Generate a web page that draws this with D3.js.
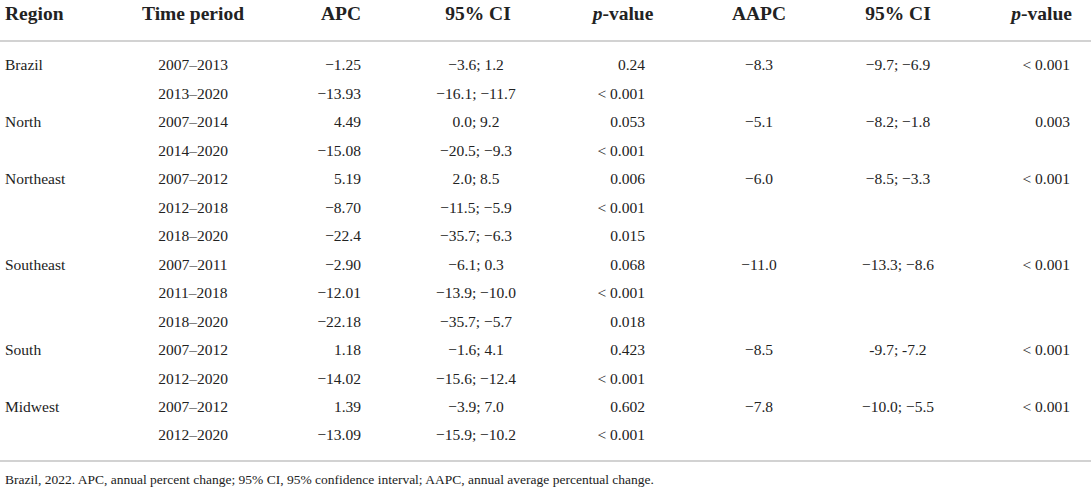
<!DOCTYPE html>
<html>
<head>
  <meta charset="utf-8">
  <title>APC and AAPC by region</title>
  <script src="https://d3js.org/d3.v7.min.js"></script>
  <style>
    body { margin: 0; background: #fff; }
    text { font-family: "Liberation Serif", "DejaVu Serif", serif; fill: #222; }
  </style>
</head>
<body>
<script>
// table content, one array per column
var headers   = ["Region", "Time period", "APC", "95% CI", "p-value", "AAPC", "95% CI", "p-value"];
var regions   = ["Brazil", "", "North", "", "Northeast", "", "", "Southeast", "", "", "South", "", "Midwest", ""];
var periods   = ["2007\u20132013", "2013\u20132020", "2007\u20132014", "2014\u20132020", "2007\u20132012", "2012\u20132018",
                 "2018\u20132020", "2007\u20132011", "2011\u20132018", "2018\u20132020", "2007\u20132012", "2012\u20132020",
                 "2007\u20132012", "2012\u20132020"];
var apc       = ["\u22121.25", "\u221213.93", "4.49", "\u221215.08", "5.19", "\u22128.70", "\u221222.4",
                 "\u22122.90", "\u221212.01", "\u221222.18", "1.18", "\u221214.02", "1.39", "\u221213.09"];
var apcCI     = ["\u22123.6; 1.2", "\u221216.1; \u221211.7", "0.0; 9.2", "\u221220.5; \u22129.3", "2.0; 8.5",
                 "\u221211.5; \u22125.9", "\u221235.7; \u22126.3", "\u22126.1; 0.3", "\u221213.9; \u221210.0",
                 "\u221235.7; \u22125.7", "\u22121.6; 4.1", "\u221215.6; \u221212.4", "\u22123.9; 7.0", "\u221215.9; \u221210.2"];
var apcP      = ["0.24", "< 0.001", "0.053", "< 0.001", "0.006", "< 0.001", "0.015",
                 "0.068", "< 0.001", "0.018", "0.423", "< 0.001", "0.602", "< 0.001"];
var aapc      = ["\u22128.3", "", "\u22125.1", "", "\u22126.0", "", "", "\u221211.0", "", "", "\u22128.5", "", "\u22127.8", ""];
var aapcCI    = ["\u22129.7; \u22126.9", "", "\u22128.2; \u22121.8", "", "\u22128.5; \u22123.3", "", "",
                 "\u221213.3; \u22128.6", "", "", "-9.7; -7.2", "", "\u221210.0; \u22125.5", ""];
var aapcP     = ["< 0.001", "", "0.003", "", "< 0.001", "", "", "< 0.001", "", "", "< 0.001", "", "< 0.001", ""];
var footnote  = "Brazil, 2022. APC, annual percent change; 95% CI, 95% confidence interval; AAPC, annual average percentual change.";

var columns = [regions, periods, apc, apcCI, apcP, aapc, aapcCI, aapcP];

// layout: x position and anchor of each column (header, body)
var colX      = [5, 193, 361, 476, 645, 759, 898, 1070];
var colAnchor = ["start", "middle", "end", "middle", "end", "middle", "middle", "end"];
var headX     = [5, 193, 361, 478, 623, 759, 898, 1072];
var headAnchor = ["start", "middle", "end", "middle", "middle", "middle", "middle", "end"];

var width = 1091, height = 491;

var svg = d3.select("body").append("svg")
    .attr("width", width)
    .attr("height", height);

// rows placed with a point scale
var y = d3.scalePoint()
    .domain(d3.range(periods.length))
    .range([65, 435]);

// header
svg.selectAll("text.head")
    .data(headers)
    .enter().append("text")
    .attr("class", "head")
    .attr("x", function(d, i) { return headX[i]; })
    .attr("y", 13)
    .attr("dy", "0.35em")
    .attr("text-anchor", function(d, i) { return headAnchor[i]; })
    .style("font-size", "19.5px")
    .style("font-weight", "bold")
    .each(function(d) {
      var t = d3.select(this);
      if (d === "p-value") {
        t.append("tspan").style("font-style", "italic").text("p");
        t.append("tspan").text("-value");
      } else {
        t.text(d);
      }
    });

// rules
svg.selectAll("line.rule")
    .data([41, 461])
    .enter().append("line")
    .attr("x1", 0)
    .attr("x2", width)
    .attr("y1", function(d) { return d; })
    .attr("y2", function(d) { return d; })
    .attr("stroke", "#d2d2d2")
    .attr("stroke-width", 2);

// body cells
columns.forEach(function(col, c) {
  svg.append("g")
    .selectAll("text")
    .data(col)
    .enter().append("text")
    .attr("x", colX[c])
    .attr("y", function(d, i) { return y(i); })
    .attr("dy", "0.35em")
    .attr("text-anchor", colAnchor[c])
    .style("font-size", "15.5px")
    .text(function(d) { return d; });
});

svg.append("text")
    .attr("x", 5)
    .attr("y", 479)
    .attr("dy", "0.35em")
    .style("font-size", "13.5px")
    .text(footnote);
</script>
</body>
</html>
